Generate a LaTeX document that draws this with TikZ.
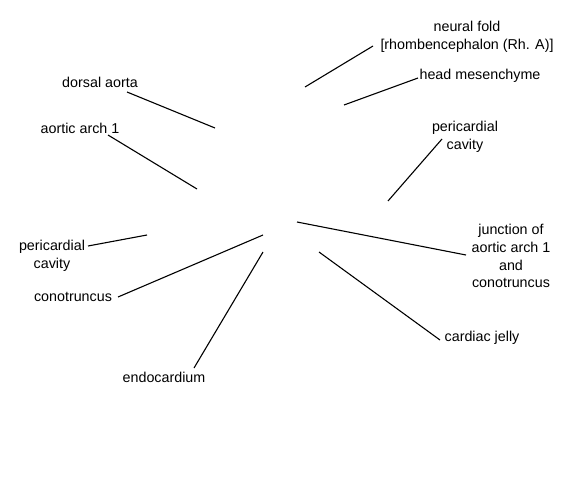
\documentclass[tikz,border=0pt]{standalone}
\usepackage{fontspec}
\setmainfont{Liberation Sans}
\begin{document}
\begin{tikzpicture}[x=1pt,y=-1pt,
  lbl/.style={inner sep=0pt,align=center,font=\fontsize{14.3}{17.8}\selectfont},
  ln/.style={draw=black,line width=1.1pt}]
\useasboundingbox (0,0) rectangle (561,495);
\node[lbl] (nf) at (467,37) {neural fold\\{[rhombencephalon (Rh. A)]}};
\node[lbl] (hm) at (480,76) {head mesenchyme};
\node[lbl] (da) at (100,82) {dorsal aorta};
\node[lbl] (aa) at (80,128) {aortic arch 1};
\node[lbl] (pcr) at (465,137) {pericardial\\cavity};
\node[lbl] (jn) at (511,256) {junction of\\aortic arch 1\\and\\conotruncus};
\node[lbl] (cj) at (482,338) {cardiac jelly};
\node[lbl] (pcl) at (52,256) {pericardial\\cavity};
\node[lbl] (ct) at (73,297) {conotruncus};
\node[lbl] (ec) at (164,377) {endocardium};
% connector ends
\coordinate (nf1) at (373,46);  \coordinate (nf2) at (305,87);
\coordinate (hm1) at (418,78);  \coordinate (hm2) at (344,105);
\coordinate (da1) at (127,92);  \coordinate (da2) at (215,128);
\coordinate (aa1) at (108,135); \coordinate (aa2) at (197,189);
\coordinate (pcr1) at (442,139);\coordinate (pcr2) at (388,201);
\coordinate (jn1) at (466,255); \coordinate (jn2) at (297,222);
\coordinate (cj1) at (440,340); \coordinate (cj2) at (319,252);
\coordinate (pcl1) at (88,246); \coordinate (pcl2) at (147,235);
\coordinate (ct1) at (118,297); \coordinate (ct2) at (263,235);
\coordinate (ec1) at (194,368); \coordinate (ec2) at (263,252);
\draw[ln] (nf1) -- (nf2);
\draw[ln] (hm1) -- (hm2);
\draw[ln] (da1) -- (da2);
\draw[ln] (aa1) -- (aa2);
\draw[ln] (pcr1) -- (pcr2);
\draw[ln] (jn1) -- (jn2);
\draw[ln] (cj1) -- (cj2);
\draw[ln] (pcl1) -- (pcl2);
\draw[ln] (ct1) -- (ct2);
\draw[ln] (ec1) -- (ec2);
\end{tikzpicture}
\end{document}
